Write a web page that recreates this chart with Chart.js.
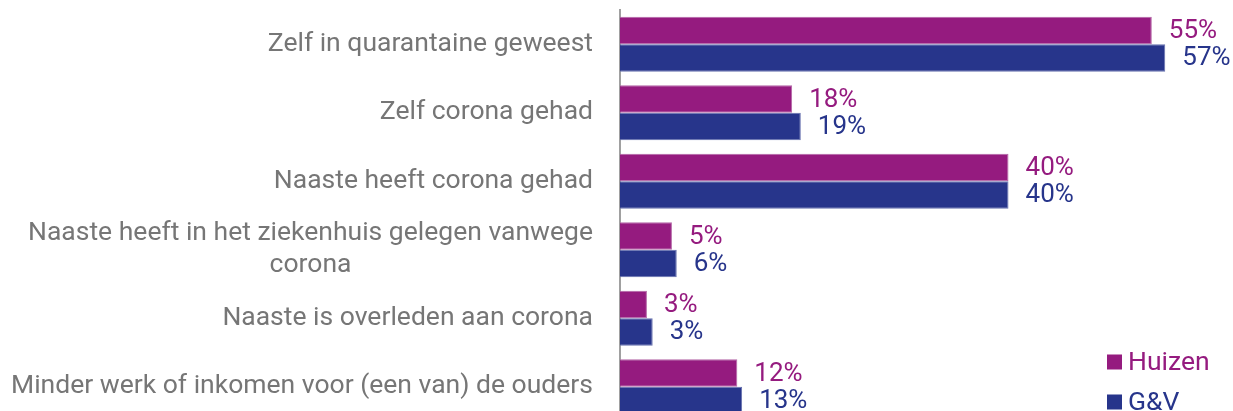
<!DOCTYPE html>
<html>
<head>
<meta charset="utf-8">
<script src="https://cdn.jsdelivr.net/npm/chart.js@4/dist/chart.umd.min.js"></script>
<style>
  html, body { margin: 0; padding: 0; background: #fff; overflow: hidden; }
  #wrap { position: relative; width: 1233px; height: 421px; }
</style>
</head>
<body>
<div id="wrap"><canvas id="c"></canvas></div>
<script>
// ---- data ----
const categories = [
  "Zelf in quarantaine geweest",
  "Zelf corona gehad",
  "Naaste heeft corona gehad",
  ["Naaste heeft in het ziekenhuis gelegen vanwege", "corona"],
  "Naaste is overleden aan corona",
  "Minder werk of inkomen voor (een van) de ouders"
];
const seriesNames = ["Huizen", "G&V"];
const huizenValues = [55.3, 17.9, 40.4, 5.4, 2.8, 12.2];
const gvValues = [56.7, 18.8, 40.4, 5.9, 3.4, 12.7];

// ---- styles ----
const PURPLE = "#951b7f";
const BLUE = "#27358b";
const LABEL_GREY = "#767676";
const FONT = "Roboto, 'Liberation Sans', sans-serif";

const valueLabels = {
  id: "valueLabels",
  afterDatasetsDraw(chart) {
    const ctx = chart.ctx;
    ctx.save();
    ctx.font = "26px " + FONT;
    ctx.textAlign = "left";
    ctx.textBaseline = "middle";
    chart.data.datasets.forEach((ds, di) => {
      const meta = chart.getDatasetMeta(di);
      meta.data.forEach((el, i) => {
        ctx.fillStyle = ds.backgroundColor;
        ctx.fillText(Math.round(ds.data[i]) + "%", el.x + 17, el.y + 1);
      });
    });
    ctx.restore();
  }
};

const categoryLabels = {
  id: "categoryLabels",
  afterDraw(chart) {
    const ctx = chart.ctx;
    const y = chart.scales.y;
    const right = 593;
    const lh = 32;
    ctx.save();
    ctx.font = "26.5px " + FONT;
    ctx.fillStyle = LABEL_GREY;
    ctx.textBaseline = "middle";
    chart.data.labels.forEach((lab, i) => {
      const lines = Array.isArray(lab) ? lab : [lab];
      const cy = y.getPixelForValue(i);
      const maxW = Math.max(...lines.map(l => ctx.measureText(l).width));
      ctx.textAlign = "center";
      lines.forEach((l, k) => {
        const ly = cy - (lines.length - 1) * lh / 2 + k * lh;
        ctx.fillText(l, right - maxW / 2, ly);
      });
    });
    ctx.restore();
  }
};

const sideLegend = {
  id: "sideLegend",
  afterDraw(chart) {
    const ctx = chart.ctx;
    ctx.save();
    ctx.font = "26.5px " + FONT;
    ctx.textBaseline = "middle";
    ctx.textAlign = "left";
    chart.data.datasets.forEach((ds, i) => {
      const cy = 362 + i * 40;
      ctx.fillStyle = ds.backgroundColor;
      ctx.fillRect(1107, cy - 7.5, 15, 15);
      ctx.fillText(ds.label, 1128, cy + 1);
    });
    ctx.restore();
  }
};

new Chart(document.getElementById("c"), {
  type: "bar",
  data: {
    labels: categories,
    datasets: [
      { label: seriesNames[0], data: huizenValues, backgroundColor: PURPLE, borderColor: "#b466a6", borderWidth: 1 },
      { label: seriesNames[1], data: gvValues, backgroundColor: BLUE, borderColor: "#6670ae", borderWidth: 1 }
    ]
  },
  options: {
    indexAxis: "y",
    responsive: true,
    maintainAspectRatio: false,
    animation: false,
    layout: { padding: { top: 10, right: 36, bottom: 0, left: 0 } },
    datasets: { bar: { categoryPercentage: 0.8, barPercentage: 1.0 } },
    scales: {
      x: { display: false, min: 0, max: 60 },
      y: {
        grid: { display: false, drawTicks: false },
        border: { display: true, color: "#a0a0a0", width: 2 },
        ticks: { display: false },
        afterFit(scale) { scale.width = 620; }
      }
    },
    plugins: {
      legend: { display: false },
      tooltip: { enabled: false }
    }
  },
  plugins: [valueLabels, categoryLabels, sideLegend]
});
</script>
</body>
</html>
